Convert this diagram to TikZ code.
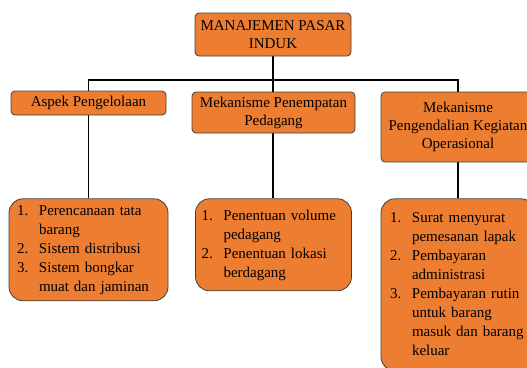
\documentclass[tikz,border=0pt]{standalone}
\usepackage{fontspec}
\setmainfont{Liberation Serif}
\usetikzlibrary{positioning,backgrounds}
\definecolor{boxorange}{HTML}{ED7D31}
\tikzstyle{block} = [rectangle, draw=black!75, fill=boxorange, align=center, rounded corners=4pt, line width=0.8pt, inner sep=0pt, font=\fontsize{15}{18}\selectfont]
\tikzstyle{listbox} = [rectangle, draw=black!75, fill=boxorange, align=left, rounded corners=14pt, line width=0.8pt, inner ysep=0pt, font=\fontsize{15}{19}\selectfont]
\tikzstyle{line} = [draw, line width=1.8pt]

\begin{document}
\begin{tikzpicture}[x=1pt, y=-1pt]
    \useasboundingbox (0,0) rectangle (527,367);
    \clip (0,0) rectangle (527,367);

    \node[block, minimum width=156pt, minimum height=43pt] (manajemen) at (273,34.5) {MANAJEMEN PASAR\\INDUK};
    \node[block, minimum width=155pt, minimum height=24pt] (aspek) at (88.5,103) {Aspek Pengelolaan};
    \node[block, minimum width=163pt, minimum height=41pt] (penempatan) at (273.5,112.5) {Mekanisme Penempatan\\Pedagang};
    \node[block, minimum width=154pt, minimum height=70pt] (pengendalian) at (458,127) {Mekanisme\\Pengendalian Kegiatan\\Operasional};

    \node[listbox, below=83pt of aspek, text width=143pt, inner xsep=8pt, minimum height=102pt] (rencana)
        {\begin{tabular}{@{}p{22pt}@{}l@{}}
        1. & Perencanaan tata\\ & barang\\
        2. & Sistem distribusi\\
        3. & Sistem bongkar\\ & muat dan jaminan
        \end{tabular}};
    \node[listbox, below=65pt of penempatan, text width=144pt, inner xsep=6pt, minimum height=92pt] (volume)
        {\begin{tabular}{@{}p{22pt}@{}l@{}}
        1. & Penentuan volume\\ & pedagang\\
        2. & Penentuan lokasi\\ & berdagang
        \end{tabular}};
    \node[listbox, below=36pt of pengendalian, text width=136pt, inner xsep=9pt, minimum height=172pt] (surat)
        {\begin{tabular}{@{}p{22pt}@{}l@{}}
        1. & Surat menyurat\\ & pemesanan lapak\\
        2. & Pembayaran\\ & administrasi\\
        3. & Pembayaran rutin\\ & untuk barang\\ & masuk dan barang\\ & keluar
        \end{tabular}};

    \coordinate (bus) at (273,80);

    % connectors behind the boxes
    \begin{pgfonlayer}{background}
        \draw[line] (manajemen.south) -- (manajemen.south |- volume.north);
        \draw[line] (rencana.north) |- (bus) -| (surat.north);
    \end{pgfonlayer}
\end{tikzpicture}
\end{document}
